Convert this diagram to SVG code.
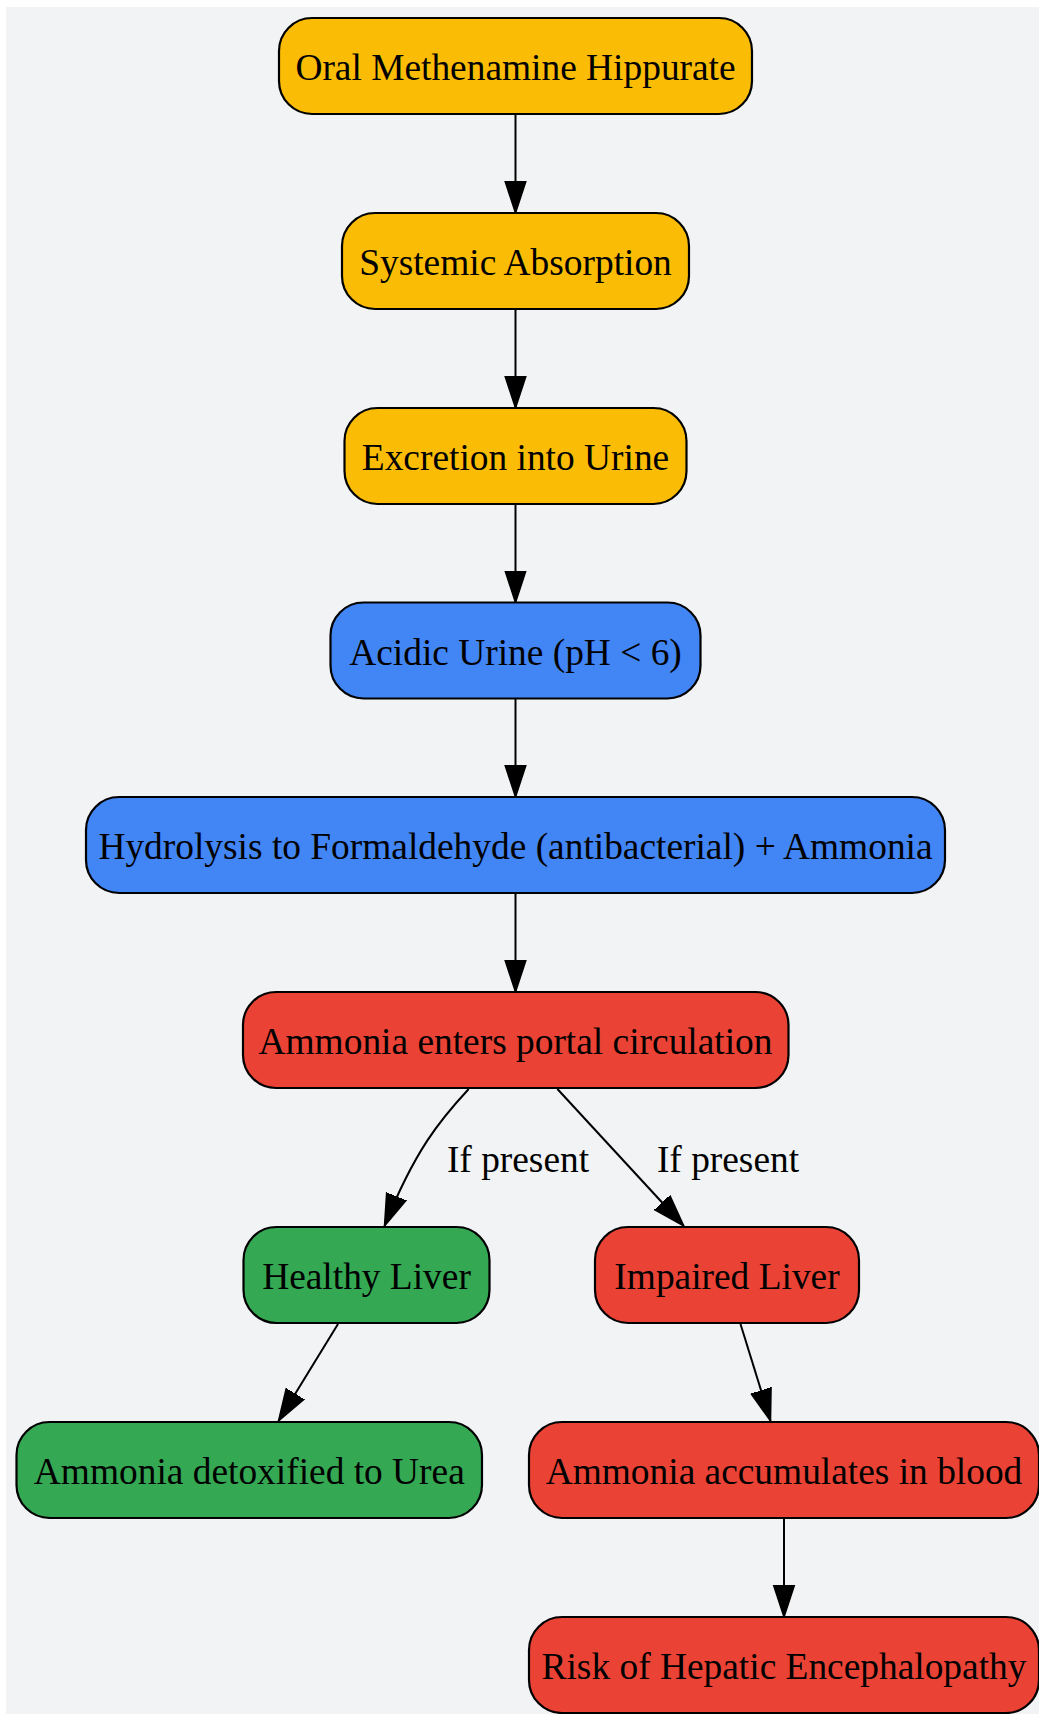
<svg xmlns="http://www.w3.org/2000/svg" width="1039" height="1714" viewBox="0 0 1039 1714">
<defs>
<style>
.n{stroke:#000;stroke-width:2.2}
.y{fill:#FBBC05}.b{fill:#4285F4}.r{fill:#EA4335}.g{fill:#34A853}
text{font-family:"Liberation Serif","Times New Roman",serif;font-size:37.4px;fill:#000;text-anchor:middle}
.e{fill:none;stroke:#000;stroke-width:2;marker-end:url(#ah)}
</style>
<marker id="ah" markerUnits="userSpaceOnUse" markerWidth="34" markerHeight="24" viewBox="0 0 34 24" refX="32" refY="12" orient="auto">
<path d="M0,1.5 L32,12 L0,22.5 Z" fill="#000" stroke="#000" stroke-width="1.5"/>
</marker>
</defs>
<rect x="0" y="0" width="1039" height="1714" fill="#ffffff"/>
<rect x="6" y="7" width="1033" height="1707" fill="#F1F3F4"/>
<g id="edges">
<path class="e" d="M515.5,114 L515.5,213"/>
<path class="e" d="M515.5,309 L515.5,408"/>
<path class="e" d="M515.5,504 L515.5,602.5"/>
<path class="e" d="M515.5,698.5 L515.5,797"/>
<path class="e" d="M515.5,893 L515.5,992"/>
<path class="e" d="M468.7,1089 C440,1120 415,1150 384.5,1226"/>
<path class="e" d="M557.4,1089 L683.8,1226"/>
<path class="e" d="M338,1324 L278.5,1421"/>
<path class="e" d="M740.5,1324 L770.5,1421"/>
<path class="e" d="M784,1518 L784,1617"/>
<text x="518" y="1172">If present</text>
<text x="728" y="1172">If present</text>
</g>
<g id="n1"><rect class="n y" x="279" y="18" width="473" height="96" rx="33"/><text x="515.5" y="80">Oral Methenamine Hippurate</text></g>
<g id="n2"><rect class="n y" x="342" y="213" width="347" height="96" rx="33"/><text x="515.5" y="275">Systemic Absorption</text></g>
<g id="n3"><rect class="n y" x="344.5" y="408" width="342" height="96" rx="33"/><text x="515.5" y="470">Excretion into Urine</text></g>
<g id="n4"><rect class="n b" x="330.5" y="602.5" width="370" height="96" rx="33"/><text x="515.5" y="664.5">Acidic Urine (pH &lt; 6)</text></g>
<g id="n5"><rect class="n b" x="86" y="797" width="859" height="96" rx="33"/><text x="515.5" y="859">Hydrolysis to Formaldehyde (antibacterial) + Ammonia</text></g>
<g id="n6"><rect class="n r" x="243" y="992" width="545.5" height="96" rx="33"/><text x="515.5" y="1054">Ammonia enters portal circulation</text></g>
<g id="n7"><rect class="n g" x="243.5" y="1227" width="246" height="96" rx="33"/><text x="366.5" y="1289">Healthy Liver</text></g>
<g id="n8"><rect class="n r" x="595" y="1227" width="264" height="96" rx="33"/><text x="727" y="1289">Impaired Liver</text></g>
<g id="n9"><rect class="n g" x="16.5" y="1422" width="465.5" height="96" rx="33"/><text x="249.3" y="1484">Ammonia detoxified to Urea</text></g>
<g id="n10"><rect class="n r" x="529" y="1422" width="510" height="96" rx="33"/><text x="784" y="1484">Ammonia accumulates in blood</text></g>
<g id="n11"><rect class="n r" x="529" y="1617" width="510" height="96" rx="33"/><text x="784" y="1679">Risk of Hepatic Encephalopathy</text></g>
</svg>
